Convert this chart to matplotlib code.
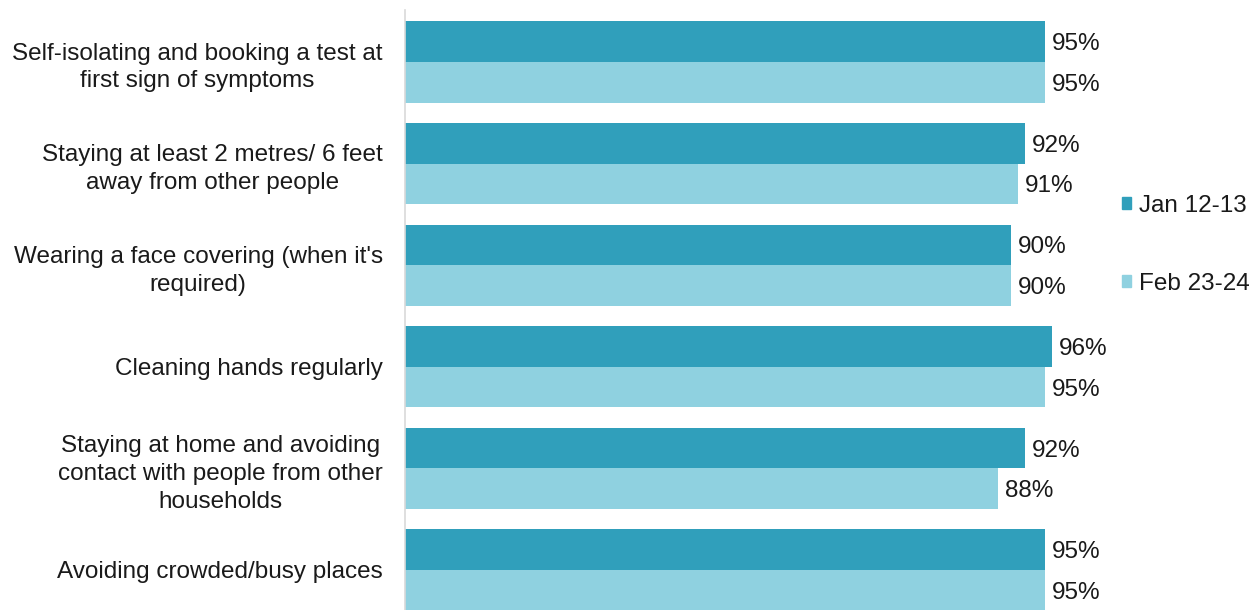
import matplotlib.pyplot as plt
from matplotlib.patches import Patch

# data
categories = [
    "Self-isolating and booking a test at\nfirst sign of symptoms",
    "Staying at least 2 metres/ 6 feet\naway from other people",
    "Wearing a face covering (when it's\nrequired)",
    "Cleaning hands regularly",
    "Staying at home and avoiding\ncontact with people from other\nhouseholds",
    "Avoiding crowded/busy places",
]
jan = [95, 92, 90, 96, 92, 95]
feb = [95, 91, 90, 95, 88, 95]
series_names = ["Jan 12-13", "Feb 23-24"]

dark = "#309fbb"
light = "#8fd1e0"
fs = 17.5

plt.rcParams['font.family'] = ['Liberation Sans', 'DejaVu Sans']

fig = plt.figure(figsize=(12.5, 6.1), dpi=100)
ax = fig.add_axes([405 / 1250, 0, 673.7 / 1250, 600 / 610])

h = 0.4
pos = list(range(len(categories)))
ax.barh([p - h / 2 for p in pos], jan, height=h, color=dark)
ax.barh([p + h / 2 for p in pos], feb, height=h, color=light)

for p, a, b in zip(pos, jan, feb):
    ax.text(a + 1, p - h / 2, f"{a}%", va='center_baseline', ha='left', fontsize=fs, color='#1a1a1a')
    ax.text(b + 1, p + h / 2, f"{b}%", va='center_baseline', ha='left', fontsize=fs, color='#1a1a1a')

ax.set_xlim(0, 100)
ax.set_ylim(5.394, -0.512)
ax.set_yticks(pos)
ax.set_yticklabels(categories, fontsize=fs, color='#1a1a1a')
for t in ax.get_yticklabels():
    t.set_multialignment('center')
    t.set_linespacing(1.35)
ax.tick_params(axis='y', length=0, pad=16)
ax.set_xticks([])
for s in ['top', 'right', 'bottom']:
    ax.spines[s].set_visible(False)
ax.spines['left'].set_color('#d9d9d9')
ax.spines['left'].set_linewidth(1.2)

handles = [Patch(color=dark), Patch(color=light)]
fig.legend(handles, series_names, loc='center left',
           bbox_to_anchor=(1112 / 1250, 1 - 245 / 610), frameon=False,
           borderaxespad=0, fontsize=fs, handlelength=0.37, handleheight=0.37,
           handletextpad=0.33, labelspacing=2.3, labelcolor='#1a1a1a')

fig.savefig("out.png", dpi=100)
